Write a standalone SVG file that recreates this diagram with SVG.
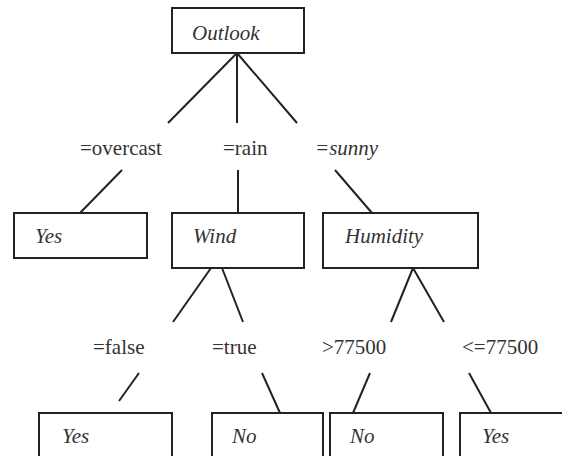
<svg xmlns="http://www.w3.org/2000/svg" width="562" height="456" viewBox="0 0 562 456">
<style>
rect{fill:#fff;stroke:#222;stroke-width:2}
line{stroke:#222;stroke-width:2}
text{font-family:"Liberation Serif","Times New Roman",serif;font-size:21px;fill:#333}
.i{font-style:italic}
</style>
<rect x="0" y="0" width="562" height="456" style="stroke:none"/>
<g id="connectors">
<line x1="237" y1="53" x2="168" y2="123"/>
<line x1="237" y1="53" x2="237" y2="123"/>
<line x1="237" y1="53" x2="297" y2="123"/>
<line x1="122" y1="170" x2="80" y2="213"/>
<line x1="238" y1="170" x2="238" y2="213"/>
<line x1="335" y1="170" x2="372" y2="213"/>
<line x1="211" y1="268" x2="173" y2="322"/>
<line x1="222" y1="268" x2="243" y2="322"/>
<line x1="413" y1="268" x2="391" y2="322"/>
<line x1="413" y1="268" x2="444" y2="322"/>
<line x1="139" y1="373" x2="119" y2="401"/>
<line x1="262" y1="373" x2="280" y2="413"/>
<line x1="370" y1="373" x2="353" y2="413"/>
<line x1="469" y1="373" x2="491" y2="413"/>
</g>
<g id="labels">
<text x="80" y="155">=overcast</text>
<text x="223" y="155">=rain</text>
<text class="i" x="315" y="155">=sunny</text>
<text x="93" y="354">=false</text>
<text x="212" y="354">=true</text>
<text x="322" y="354">&gt;77500</text>
<text x="462" y="354">&lt;=77500</text>
</g>
<g id="outlook"><rect x="172" y="8" width="132" height="45"/><text class="i" x="192" y="40">Outlook</text></g>
<g id="yes1"><rect x="14" y="213" width="133" height="45"/><text class="i" x="35" y="243">Yes</text></g>
<g id="wind"><rect x="172" y="213" width="132" height="55"/><text class="i" x="193" y="243">Wind</text></g>
<g id="humidity"><rect x="323" y="213" width="155" height="55"/><text class="i" x="345" y="243">Humidity</text></g>
<g id="yes2"><rect x="39" y="413" width="133" height="60"/><text class="i" x="62" y="443">Yes</text></g>
<g id="no1"><rect x="212" y="413" width="111" height="60"/><text class="i" x="232" y="443">No</text></g>
<g id="no2"><rect x="330" y="413" width="113" height="60"/><text class="i" x="350" y="443">No</text></g>
<g id="yes3"><rect x="460" y="413" width="110" height="60"/><text class="i" x="482" y="443">Yes</text></g>
</svg>
